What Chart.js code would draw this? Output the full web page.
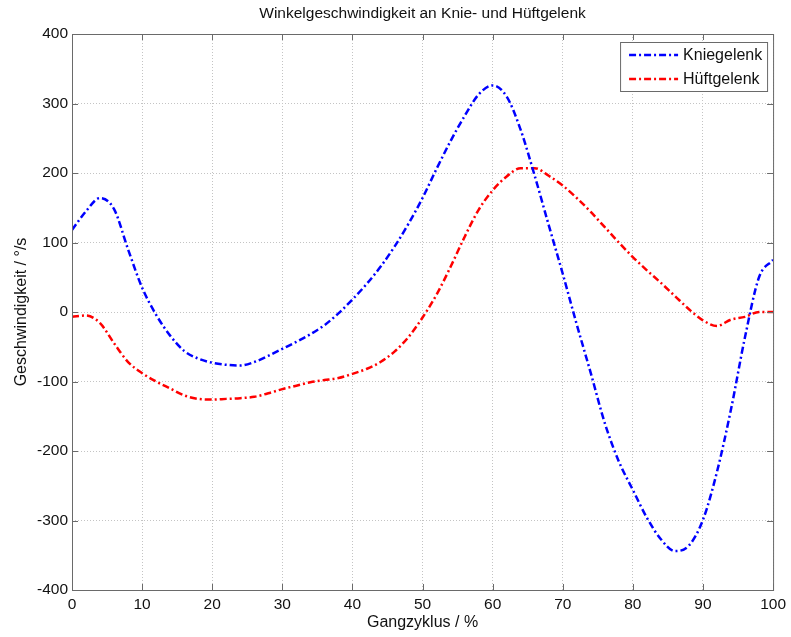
<!DOCTYPE html>
<html>
<head>
<meta charset="utf-8">
<script src="https://cdn.jsdelivr.net/npm/chart.js@4"></script>
<style>
  html, body { margin: 0; padding: 0; background: #fff; }
  #wrap { width: 791px; height: 637px; }
</style>
</head>
<body>
<div id="wrap"><canvas id="chart" width="791" height="637"></canvas></div>
<script>
// gait cycle positions (%) and angular velocities (deg/s)
const gaitCycle = [0, 2, 4, 6, 8, 10, 12, 14, 16, 18, 20, 22, 24, 26, 28, 30, 32, 34, 36, 38, 40,
  42, 44, 46, 48, 50, 52, 54, 56, 58, 60, 62, 64, 66, 68, 70, 72, 74, 76, 78, 80,
  82, 84, 86, 88, 90, 92, 94, 96, 98, 100];

const kneeVelocity = [118, 145, 164, 148, 90, 35, -4, -34, -56, -67, -73, -76, -77, -72, -63, -53, -43, -32, -19, -2, 18,
  40, 65, 94, 127, 164, 206, 246, 282, 313, 326, 310, 262, 196, 125, 55, -18, -88, -160, -215, -256,
  -296, -327, -344, -336, -299, -230, -140, -36, 50, 75];

const hipVelocity = [-7, -5, -16, -45, -72, -88, -100, -110, -120, -125, -126, -125, -124, -122, -117, -111, -106, -101, -98, -95, -89,
  -82, -72, -57, -36, -8, 25, 65, 108, 147, 175, 195, 207, 207, 196, 182, 164, 144, 122, 100, 79,
  60, 42, 23, 4, -12, -20, -11, -7, 0, 0];

const seriesNames = ['Kniegelenk', 'Hüftgelenk'];
const seriesColors = ['#0000ff', '#ff0000'];
const chartTitle = 'Winkelgeschwindigkeit an Knie- und Hüftgelenk';
const xTitle = 'Gangzyklus / %';
const yTitle = 'Geschwindigkeit / °/s';

const FONT = '"Liberation Sans", Arial, Helvetica, sans-serif';
const dashDot = [7, 3, 2, 3];

const toPoints = (ys) => gaitCycle.map((x, i) => ({ x: x, y: ys[i] }));

// matlab style frame: box, inward ticks, title and legend
const framePlugin = {
  id: 'frame',
  afterDraw(chart) {
    const ctx = chart.ctx;
    const a = chart.chartArea;
    const xs = chart.scales.x, ys = chart.scales.y;
    ctx.save();
    ctx.strokeStyle = '#6a6a6a';
    ctx.lineWidth = 1;
    ctx.strokeRect(a.left + 0.5, a.top + 0.5, a.right - a.left, a.bottom - a.top);

    ctx.beginPath();
    xs.ticks.forEach(t => {
      const px = Math.round(xs.getPixelForValue(t.value)) + 0.5;
      ctx.moveTo(px, a.bottom); ctx.lineTo(px, a.bottom - 6);
      ctx.moveTo(px, a.top); ctx.lineTo(px, a.top + 6);
    });
    ys.ticks.forEach(t => {
      const py = Math.round(ys.getPixelForValue(t.value)) + 0.5;
      ctx.moveTo(a.left, py); ctx.lineTo(a.left + 6, py);
      ctx.moveTo(a.right, py); ctx.lineTo(a.right - 6, py);
    });
    ctx.stroke();

    // title
    ctx.fillStyle = '#111';
    ctx.font = '15.5px ' + FONT;
    ctx.textAlign = 'center';
    ctx.textBaseline = 'middle';
    ctx.fillText(chartTitle, (a.left + a.right) / 2, 14);

    // legend
    const bx = a.right - 153, by = a.top + 8, bw = 147, bh = 49;
    ctx.fillStyle = '#fff';
    ctx.fillRect(bx, by, bw, bh);
    ctx.strokeStyle = '#6a6a6a';
    ctx.strokeRect(bx + 0.5, by + 0.5, bw, bh);
    ctx.font = '16px ' + FONT;
    ctx.textAlign = 'left';
    chart.data.datasets.forEach((ds, i) => {
      const ly = by + 13 + i * 24;
      ctx.strokeStyle = ds.borderColor;
      ctx.lineWidth = 2.5;
      ctx.setLineDash(dashDot);
      ctx.beginPath();
      ctx.moveTo(bx + 9, ly); ctx.lineTo(bx + 58, ly);
      ctx.stroke();
      ctx.setLineDash([]);
      ctx.fillStyle = '#111';
      ctx.fillText(ds.label, bx + 63, ly + 1);
    });
    ctx.restore();
  }
};

const ctx = document.getElementById('chart').getContext('2d');
new Chart(ctx, {
  type: 'line',
  data: {
    datasets: [
      {
        label: seriesNames[0],
        data: toPoints(kneeVelocity),
        borderColor: seriesColors[0],
        borderWidth: 2.5,
        borderDash: dashDot,
        pointRadius: 0,
        fill: false,
        cubicInterpolationMode: 'monotone'
      },
      {
        label: seriesNames[1],
        data: toPoints(hipVelocity),
        borderColor: seriesColors[1],
        borderWidth: 2.5,
        borderDash: dashDot,
        pointRadius: 0,
        fill: false,
        cubicInterpolationMode: 'monotone'
      }
    ]
  },
  options: {
    responsive: false,
    animation: false,
    layout: { padding: { top: 34, right: 16, left: 0, bottom: 0 } },
    plugins: {
      legend: { display: false },
      title: { display: false },
      tooltip: { enabled: false }
    },
    scales: {
      x: {
        type: 'linear',
        min: 0,
        max: 100,
        afterFit: (s) => { s.height = 47; },
        ticks: { stepSize: 10, color: '#111', font: { family: FONT, size: 15.5 }, padding: 5, maxRotation: 0 },
        grid: { color: '#c4c4c4', lineWidth: 1, drawTicks: false },
        border: { display: false, dash: [1, 2] },
        title: { display: true, text: xTitle, color: '#111', font: { family: FONT, size: 16 }, padding: { top: 0, bottom: 5 } }
      },
      y: {
        type: 'linear',
        min: -400,
        max: 400,
        afterFit: (s) => { s.width = 72; },
        ticks: { stepSize: 100, color: '#111', font: { family: FONT, size: 15.5 }, padding: 4 },
        grid: { color: '#c4c4c4', lineWidth: 1, drawTicks: false },
        border: { display: false, dash: [1, 2] },
        title: { display: true, text: yTitle, color: '#111', font: { family: FONT, size: 16 }, padding: { top: 12, bottom: 0 } }
      }
    }
  },
  plugins: [framePlugin]
});
</script>
</body>
</html>
